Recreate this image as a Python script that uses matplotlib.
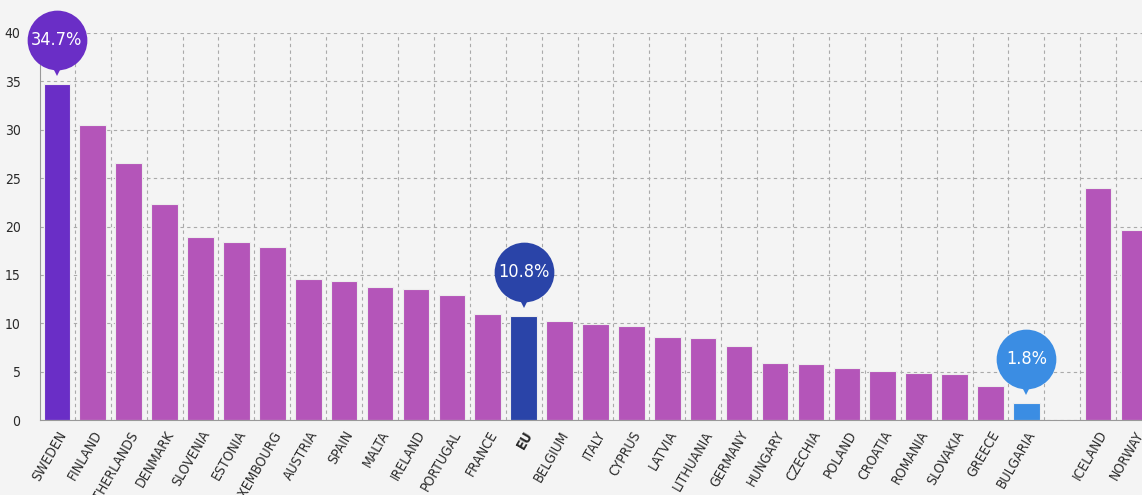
import matplotlib.pyplot as plt
from matplotlib.transforms import ScaledTranslation

countries = ["SWEDEN", "FINLAND", "NETHERLANDS", "DENMARK", "SLOVENIA", "ESTONIA",
             "LUXEMBOURG", "AUSTRIA", "SPAIN", "MALTA", "IRELAND", "PORTUGAL", "FRANCE",
             "EU", "BELGIUM", "ITALY", "CYPRUS", "LATVIA", "LITHUANIA", "GERMANY",
             "HUNGARY", "CZECHIA", "POLAND", "CROATIA", "ROMANIA", "SLOVAKIA", "GREECE",
             "BULGARIA", "ICELAND", "NORWAY"]
values = [34.7, 30.5, 26.6, 22.3, 18.9, 18.4, 17.9, 14.6, 14.4, 13.7, 13.5, 12.9, 11.0,
          10.8, 10.2, 9.9, 9.7, 8.6, 8.5, 7.6, 5.9, 5.8, 5.4, 5.1, 4.9, 4.8, 3.5, 1.8,
          24.0, 19.6]
highlights = {"SWEDEN": "#6A2EC6", "EU": "#2A44A8", "BULGARIA": "#3B8DE3"}
base_color = "#B455B9"
bg = "#F4F4F4"

plt.rcParams["font.family"] = ["DejaVu Sans"]
plt.rcParams["font.stretch"] = "condensed"

# EU members first, then a gap before the EFTA countries
positions = list(range(28)) + [29, 30]
colors = [highlights.get(c, base_color) for c in countries]

fig = plt.figure(figsize=(11.42, 4.95), dpi=100, facecolor=bg)
ax = fig.add_axes([40 / 1142, 1 - 420 / 495, 1 - 40 / 1142, (420 - 33) / 495])
ax.set_facecolor(bg)

ax.bar(positions, values, width=0.74, color=colors, edgecolor="#EDEDED", linewidth=0.8, zorder=3)

ax.set_ylim(0, 40)
ax.set_xlim(-0.47, 30.22)
ax.set_yticks(range(0, 41, 5))
ax.set_xticks(positions)
ax.set_xticklabels(countries, rotation=60, ha="right", rotation_mode="anchor",
                   fontsize=10, color="#2A2A2A")
for lab in ax.get_xticklabels():
    if lab.get_text() == "EU":
        lab.set_fontweight("bold")
ax.tick_params(axis="both", length=0, pad=6, labelsize=10, labelcolor="#2A2A2A")
ax.tick_params(axis="y", pad=14)

# dashed grid between bars and at each 5
for x in range(31):
    ax.axvline(x - 0.5, color="#AAAAAA", linestyle=(0, (3, 3)), linewidth=0.8, zorder=1)
ax.yaxis.grid(True, color="#AAAAAA", linestyle=(0, (3, 3)), linewidth=0.8, zorder=1)
ax.set_axisbelow(True)

for s in ["top", "right"]:
    ax.spines[s].set_visible(False)
ax.spines["left"].set_color("#999999")
ax.spines["bottom"].set_color("#999999")
ax.spines["left"].set_zorder(4)
ax.spines["bottom"].set_zorder(4)

# speech-bubble labels above highlighted bars (offsets in pixels at dpi 100)
for name, col in highlights.items():
    i = countries.index(name)
    x, v = positions[i], values[i]
    circ = ax.transData + ScaledTranslation(0, 44 / 100, fig.dpi_scale_trans)
    tri = ax.transData + ScaledTranslation(0, 14 / 100, fig.dpi_scale_trans)
    ax.plot(x, v, marker="o", markersize=43, color=col, transform=circ,
            clip_on=False, zorder=6, markeredgewidth=0)
    ax.plot(x, v, marker="v", markersize=8, color=col, transform=tri,
            clip_on=False, zorder=6, markeredgewidth=0)
    ax.text(x, v, f"{v}%", transform=circ, ha="center", va="center",
            color="white", fontsize=13, zorder=7, clip_on=False)

fig.savefig("out.png", dpi=100, facecolor=bg)
